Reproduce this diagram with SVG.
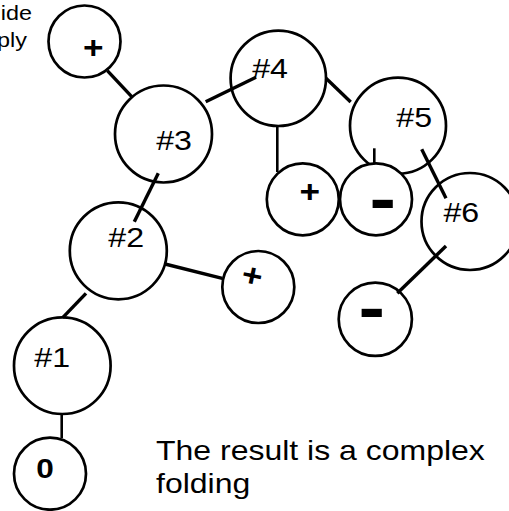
<svg xmlns="http://www.w3.org/2000/svg" width="509" height="511" viewBox="0 0 509 511">
<style>
.n{fill:#fff;stroke:#000;stroke-width:2.7}
.c line{stroke:#000;stroke-width:3.4;stroke-linecap:butt}
.c line.t{stroke-width:2.6}
text{font-family:"Liberation Sans",Arial,Helvetica,sans-serif;fill:#000}
.lb{font-size:27.5px;text-anchor:middle}
.sg{font-size:32px;font-weight:bold;text-anchor:middle}
.mn{font-size:68px;font-weight:bold;text-anchor:middle}
.zr{font-size:27px;font-weight:bold;text-anchor:middle}
.tx{font-size:27px}
.sm{font-size:20px;text-anchor:end}
</style>
<rect width="509" height="511" fill="#fff"/>
<g id="caption-top">
<text class="sm" transform="translate(32,20) scale(1.17,1)">ide</text>
<text class="sm" transform="translate(27,47) scale(1.17,1)">ply</text>
</g>
<g id="plus-top">
<circle class="n" cx="84.5" cy="41.5" r="36"/>
<text class="sg" transform="translate(93.3,58) scale(1.1,1)">+</text>
</g>
<g id="n3">
<circle class="n" cx="163.5" cy="134" r="48.5"/>
<text class="lb" transform="translate(174,150) scale(1.17,1)">#3</text>
</g>
<g id="n4">
<circle class="n" cx="278.3" cy="78.3" r="47.7"/>
<text class="lb" transform="translate(270,78.3) scale(1.17,1)">#4</text>
</g>
<g id="n5">
<circle class="n" cx="398" cy="125.7" r="48"/>
<text class="lb" transform="translate(414.2,127.3) scale(1.17,1)">#5</text>
</g>
<g id="plus-4">
<circle class="n" cx="302.8" cy="199.3" r="36"/>
<text class="sg" transform="translate(309.7,201.6) scale(1.1,1)">+</text>
</g>
<g id="minus-5">
<circle class="n" cx="376" cy="199.3" r="36"/>
<text class="mn" transform="translate(382.8,222) scale(1.17,1)">-</text>
</g>
<g id="n6">
<circle class="n" cx="470" cy="221.5" r="48.5"/>
<text class="lb" transform="translate(461.3,221.7) scale(1.17,1)">#6</text>
</g>
<g id="n2">
<circle class="n" cx="118.3" cy="250.8" r="48.5"/>
<text class="lb" transform="translate(126.2,246.7) scale(1.17,1)">#2</text>
</g>
<g id="plus-2">
<circle class="n" cx="258.3" cy="287" r="36"/>
<text class="sg" transform="translate(252.3,275) rotate(12) translate(0,11.3) scale(1.1,1)">+</text>
</g>
<g id="minus-6">
<circle class="n" cx="375.3" cy="319.3" r="36.6"/>
<text class="mn" transform="translate(371.8,331) scale(1.17,1)">-</text>
</g>
<g id="n1">
<circle class="n" cx="62.3" cy="365.7" r="48.3"/>
<text class="lb" transform="translate(52.2,367.3) scale(1.17,1)">#1</text>
</g>
<g id="n0">
<circle class="n" cx="50" cy="473.7" r="36"/>
<text class="zr" transform="translate(45,478.3) scale(1.17,1)">0</text>
</g>
<g class="c" id="connectors">
<line x1="107.3" y1="70.7" x2="131.7" y2="96.7"/>
<line x1="205.7" y1="101.7" x2="256" y2="77.3"/>
<line x1="326" y1="78.3" x2="350.7" y2="102"/>
<line class="t" x1="277.3" y1="126" x2="277.3" y2="172"/>
<line class="t" x1="374.3" y1="148.3" x2="374.3" y2="163"/>
<line x1="421.7" y1="149.3" x2="446" y2="198.3"/>
<line x1="446" y1="246" x2="397.3" y2="293.3"/>
<line x1="158.3" y1="173.3" x2="134.3" y2="221.7"/>
<line x1="165" y1="264" x2="222.3" y2="278.3"/>
<line x1="86" y1="293.3" x2="62.7" y2="317.7"/>
<line class="t" x1="61.7" y1="414" x2="61.7" y2="438.3"/>
</g>
<g id="caption">
<text class="tx" transform="translate(156,460) scale(1.185,1)">The result is a complex</text>
<text class="tx" transform="translate(156,492.5) scale(1.185,1)">folding</text>
</g>
</svg>
